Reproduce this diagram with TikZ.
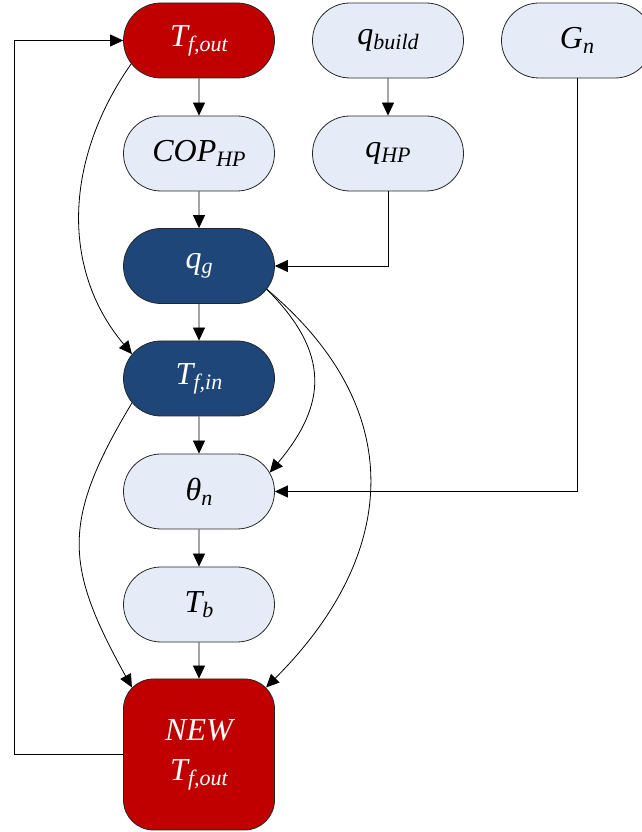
\documentclass[tikz,border=0pt]{standalone}
\usepackage{fontspec}
\setmainfont{Liberation Serif}
\usetikzlibrary{arrows.meta,shapes.misc,calc}
\definecolor{redfill}{HTML}{C00000}
\definecolor{bluefill}{HTML}{1F4678}
\definecolor{lightfill}{HTML}{E6ECF7}
\newcommand\mysub[1]{\raisebox{-5pt}{\fontsize{22}{22}\selectfont #1}}
\begin{document}
\begin{tikzpicture}[x=1pt,y=1pt,
 pill/.style={rounded rectangle, minimum width=151pt, minimum height=75pt, draw=black!85, line width=0.8pt, font=\fontsize{32}{40}\selectfont\itshape, inner sep=0pt},
 light/.style={pill, fill=lightfill, text=black},
 dark/.style={pill, fill=bluefill, text=white},
 hot/.style={pill, fill=redfill, text=white},
 bigbox/.style={rectangle, rounded corners=30pt, minimum width=151pt, minimum height=151pt, draw=black!85, line width=0.8pt, fill=redfill, text=white, align=center, font=\fontsize{32}{40}\selectfont\itshape, inner sep=0pt},
 arr/.style={-{Triangle[length=13pt,width=12pt]}, line width=0.8pt},
]
\useasboundingbox (0,0) rectangle (642,832);
\node[hot]   (Tfout)  at (199,791.5) {T\mysub{f,out}};
\node[light] (qbuild) at (388,791.5) {q\mysub{build}};
\node[light] (Gn)     at (577,791.5) {G\mysub{n}};
\node[light] (COP)    at (199,678.5) {COP\mysub{HP}};
\node[light] (qHP)    at (388,678.5) {q\mysub{HP}};
\node[dark]  (qg)     at (199,566)   {q\mysub{g}};
\node[dark]  (Tfin)   at (199,453.5) {T\mysub{f,in}};
\node[light] (theta)  at (199,340.5) {θ\mysub{n}};
\node[light] (Tb)     at (199,227.5) {T\mysub{b}};
\node[bigbox] (NEW)   at (199,77.5)  {NEW\\T\mysub{f,out}};
% straight arrows
\draw[arr] (Tfout) -- (COP);
\draw[arr] (COP) -- (qg);
\draw[arr] (qg) -- (Tfin);
\draw[arr] (Tfin) -- (theta);
\draw[arr] (theta) -- (Tb);
\draw[arr] (Tb) -- (NEW);
\draw[arr] (qbuild) -- (qHP);
% elbow arrows
\draw[arr] (qHP.south) |- (qg.east);
\draw[arr] (Gn.south) |- (theta.east);
\coordinate (fb) at ($(NEW.west)+(-109,0)$);
\draw[arr] (NEW.west) -- (fb) |- (Tfout.west);
% curved arrows
\draw[arr] (Tfout.199) to[out=235,in=130] (Tfin.160);
\draw[arr] (Tfin.200) to[out=239,in=119,looseness=1.25] ([shift={(8.8,-8.8)}]NEW.north west);
\draw[arr] (qg.341) to[out=-45,in=50,looseness=1.25] (theta.15);
\draw[arr] (qg.341) to[out=-40,in=45,looseness=1.2] ([shift={(-8.8,-8.8)}]NEW.north east);
\end{tikzpicture}
\end{document}
